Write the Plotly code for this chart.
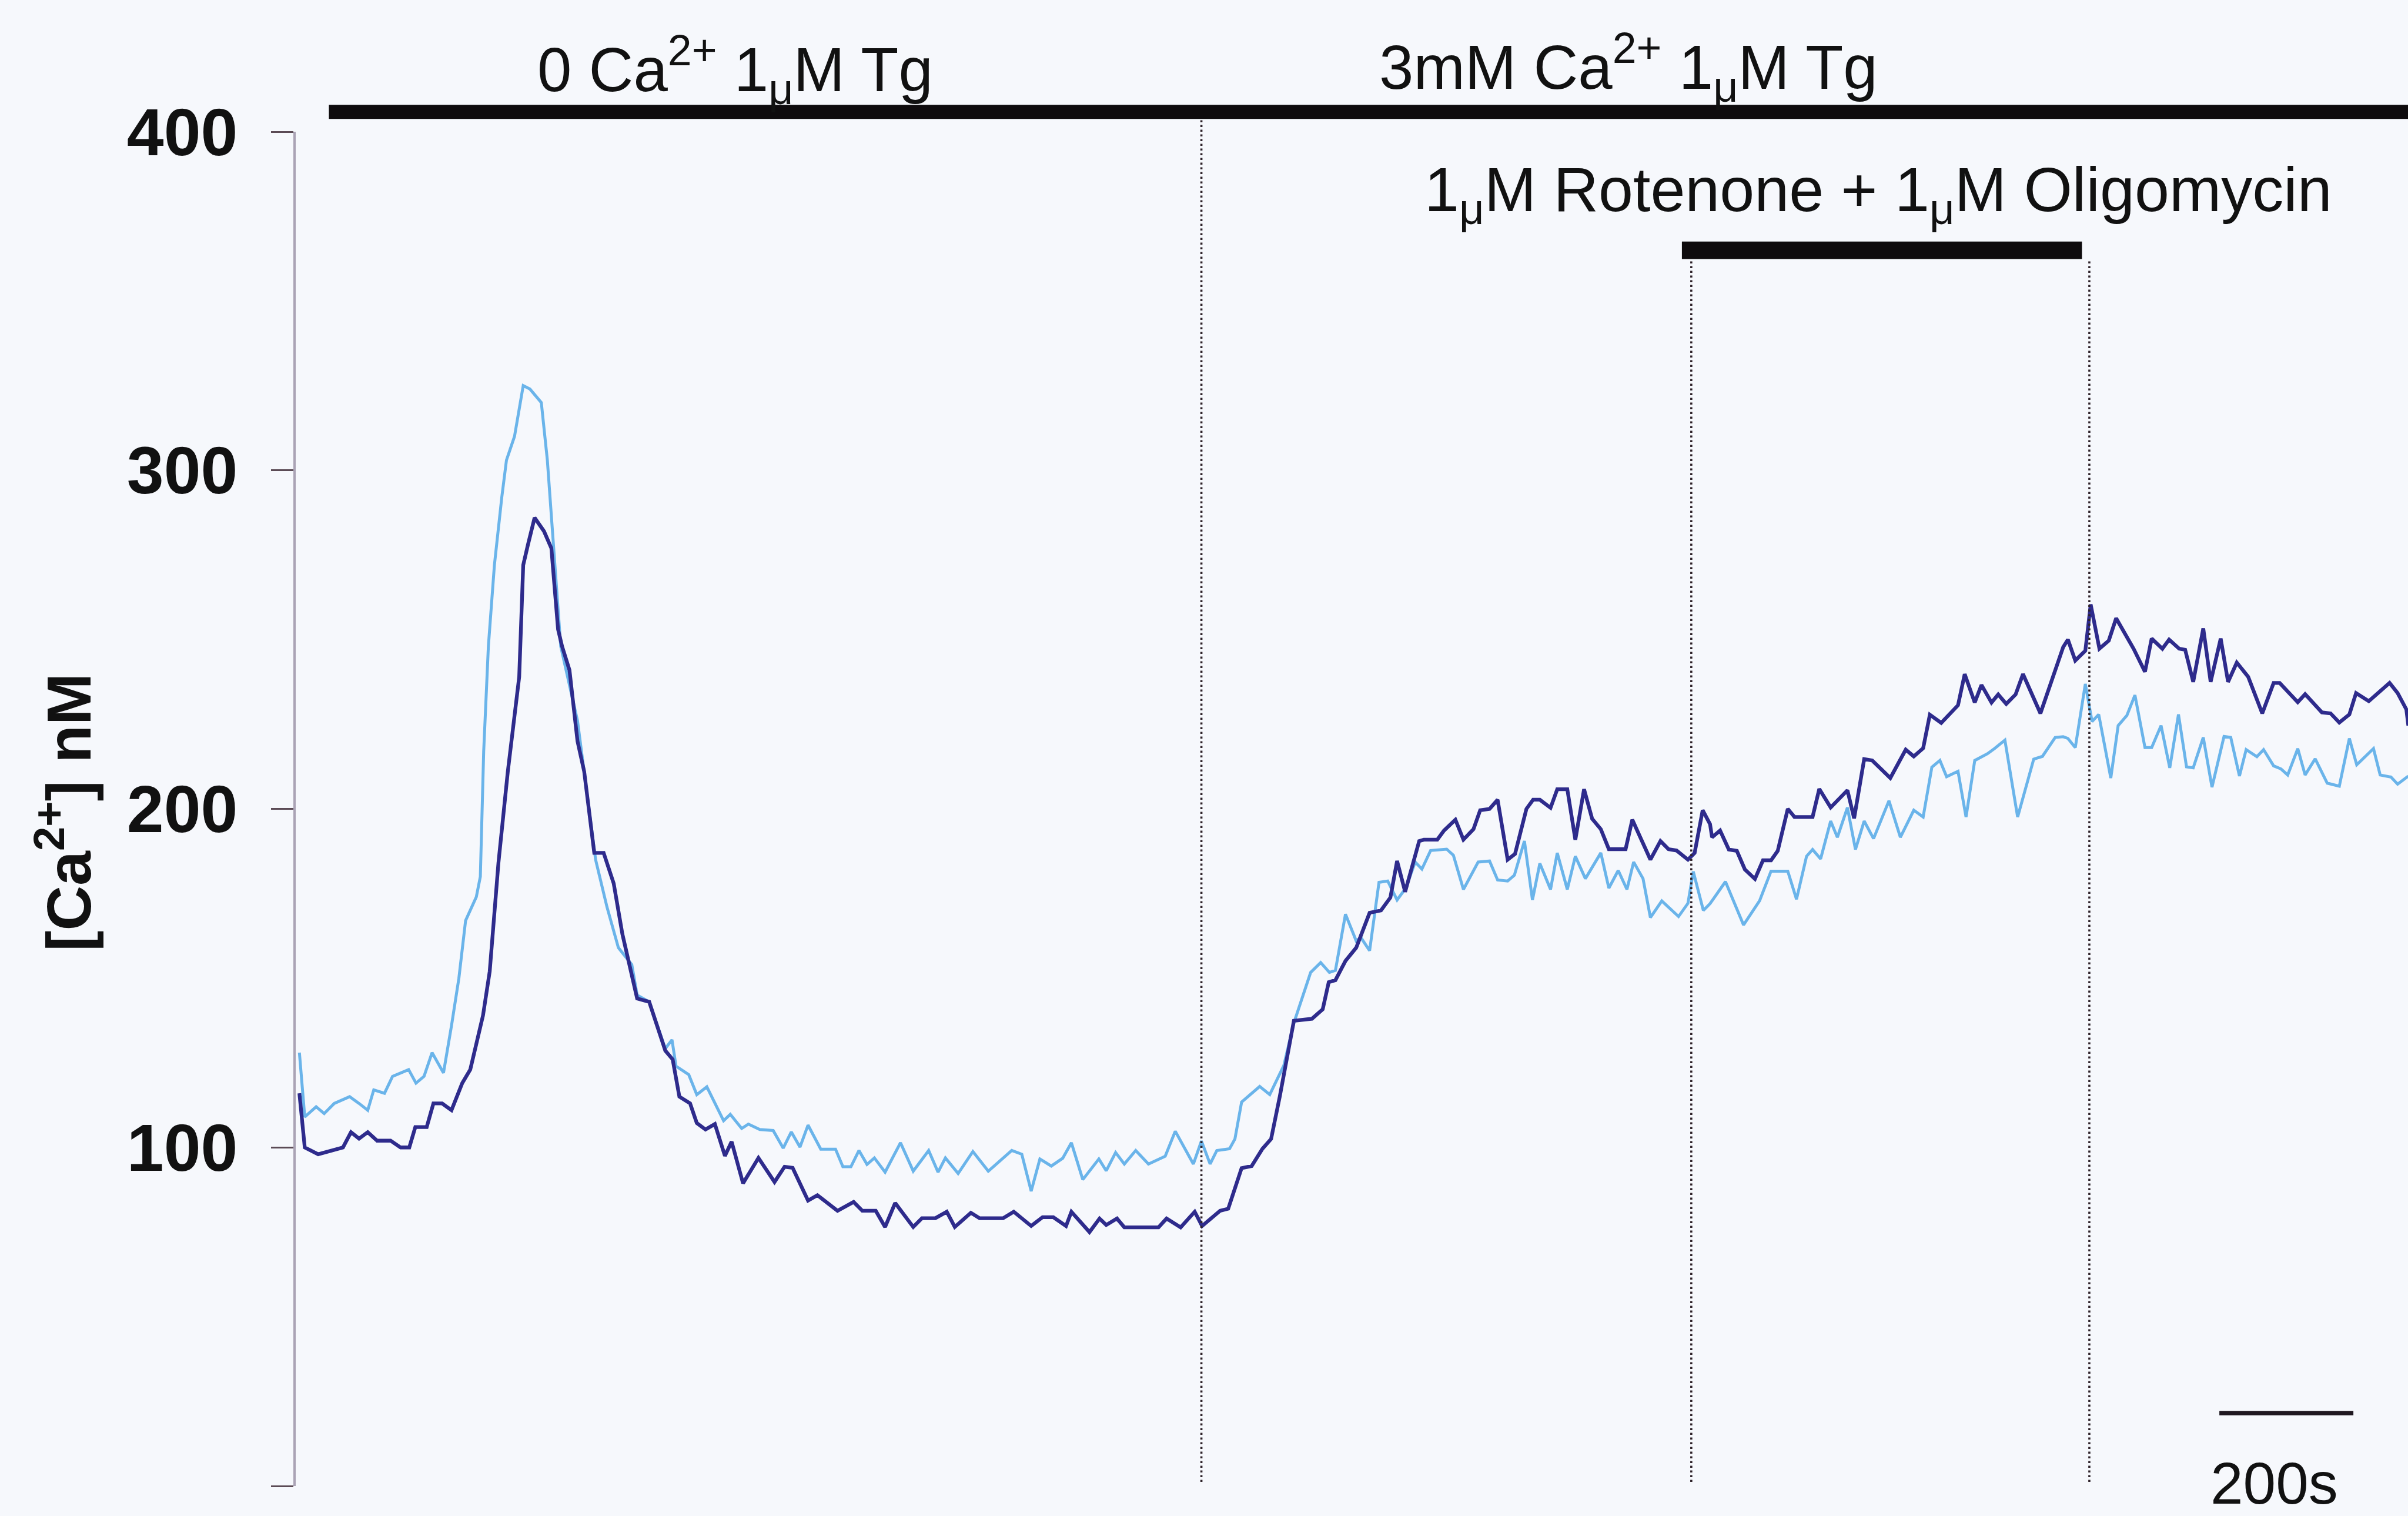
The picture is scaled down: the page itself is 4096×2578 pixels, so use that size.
import plotly.graph_objects as go

# ---------------- data (time in s, [Ca2+] in nM) ----------------
t_dark = [0, 8, 28, 45, 65, 77, 89, 102, 116, 136, 151, 164, 173, 190, 200, 213, 227, 243, 255, 274,
          284, 297, 311, 328, 334, 341, 351, 365, 376, 386, 392, 403, 415, 425, 440, 454, 469, 482, 492, 504,
          522, 546, 557, 567, 583, 593, 606, 620, 635, 645, 662, 685, 709, 724, 736, 759, 773, 803, 827, 840,
          860, 874, 889, 916, 929, 949, 966, 978, 1002, 1015, 1050, 1066, 1092, 1109, 1125, 1144, 1152, 1179, 1194, 1204,
          1220, 1231, 1282, 1294, 1315, 1336, 1347, 1374, 1386, 1406, 1421, 1437, 1450, 1463, 1484, 1511, 1527, 1536, 1546, 1561,
          1577, 1597, 1614, 1628, 1638, 1650, 1671, 1678, 1698, 1708, 1725, 1737, 1752, 1762, 1776, 1788, 1803, 1814, 1831, 1841,
          1851, 1867, 1877, 1892, 1904, 1917, 1929, 1942, 1954, 1979, 1989, 2016, 2031, 2043, 2055, 2072, 2082, 2094, 2105, 2108,
          2120, 2133, 2145, 2157, 2172, 2184, 2196, 2206, 2221, 2231, 2258, 2268, 2285, 2310, 2320, 2335, 2347, 2374, 2397, 2409,
          2423, 2433, 2450, 2475, 2485, 2500, 2510, 2525, 2535, 2547, 2561, 2572, 2598, 2620, 2632, 2639, 2650, 2665, 2673, 2686,
          2700, 2711, 2737, 2754, 2764, 2780, 2790, 2805, 2814, 2826, 2841, 2852, 2867, 2878, 2891, 2908, 2929, 2946, 2955, 2982,
          2993, 3018, 3031, 3044, 3059, 3069, 3088, 3119, 3131, 3144, 3147]
ca_dark = [116, 100, 98, 99, 100, 104.5, 102.6, 104.5, 102, 102, 100, 100, 106, 106, 113, 113, 111, 119, 123, 139,
           152, 184, 211, 239, 272, 278, 286, 282, 277, 253, 248, 241, 220, 211, 187, 187, 178, 163, 154, 144,
           143, 128.6, 126, 115, 113, 107.2, 105.3, 106.9, 97.5, 101.7, 89.4, 96.9, 89.8, 94.3, 94, 84.3, 85.9, 81.3, 83.9, 81.3,
           81.3, 76.5, 83.6, 76.5, 79.1, 79.1, 81, 76.5, 80.7, 79.1, 79.1, 81, 76.8, 79.4, 79.4, 76.8, 81, 75, 79, 77.1,
           79, 76.4, 76.4, 79, 76.4, 81, 76.8, 81.3, 81.9, 93.9, 94.5, 99.6, 102.5, 115.1, 137.4, 138, 140.8, 148.8, 149.4, 155.1,
           159, 169.3, 170, 173.8, 184.6, 175.5, 190.5, 190.9, 190.9, 193.6, 196.8, 190.9, 194, 199.6, 200, 202.7, 185, 186.7, 200, 202.7,
           202.7, 200.3, 205.8, 205.8, 190.9, 205.8, 197.1, 194, 188.1, 188.1, 196.8, 185, 190.5, 188.1, 187.7, 185, 187, 199.6, 195.5, 191.6,
           193.6, 188, 187.6, 182.1, 179.3, 184.8, 184.8, 187.6, 200, 197.6, 197.6, 205.9, 200.4, 205.5, 197.2, 214.7, 214.3, 209.1, 217.5, 215.5,
           217.9, 227.8, 225.4, 230.6, 239.8, 231.4, 236.6, 231.4, 233.8, 231, 233.8, 239.8, 228.2, 241, 247.8, 250, 243.8, 246.7, 260.4, 247.3,
           249.7, 256.3, 247.3, 240.5, 250.3, 247.3, 250, 247.3, 247, 237.5, 253.3, 237.5, 250.3, 237.5, 243.2, 239, 228.2, 237.2, 237.2, 231.5,
           233.9, 228.5, 228.2, 225.5, 227.9, 234.2, 231.8, 237.2, 234.2, 229.4, 224.6]

t_light = [0, 8, 25, 37, 52, 75, 89, 102, 111, 127, 139, 163, 174, 186, 198, 215, 227, 238, 248, 264,
           270, 275, 282, 291, 302, 309, 321, 334, 344, 361, 370, 378, 385, 390, 415, 425, 442, 459, 476, 496,
           504, 522, 546, 556, 562, 581, 593, 608, 633, 643, 660, 670, 687, 707, 722, 734, 747, 759, 778, 800,
           811, 823, 835, 847, 858, 874, 897, 916, 939, 953, 964, 983, 1005, 1028, 1050, 1063, 1078, 1092, 1105, 1122,
           1139, 1152, 1169, 1193, 1204, 1218, 1231, 1248, 1267, 1292, 1307, 1334, 1346, 1359, 1369, 1388, 1396, 1406, 1433, 1448,
           1469, 1484, 1509, 1524, 1537, 1546, 1561, 1577, 1584, 1597, 1611, 1624, 1638, 1651, 1665, 1675, 1688, 1712, 1722, 1737,
           1759, 1776, 1788, 1803, 1813, 1828, 1840, 1851, 1867, 1877, 1892, 1904, 1919, 1942, 1954, 1968, 1981, 1991, 2005, 2016,
           2033, 2058, 2072, 2080, 2095, 2105, 2128, 2155, 2179, 2196, 2221, 2234, 2249, 2258, 2270, 2285, 2295, 2310, 2322, 2335,
           2349, 2372, 2389, 2409, 2423, 2436, 2448, 2458, 2475, 2487, 2500, 2519, 2530, 2545, 2564, 2588, 2601, 2620, 2632, 2639,
           2650, 2665, 2675, 2685, 2703, 2714, 2727, 2739, 2754, 2764, 2778, 2791, 2804, 2816, 2826, 2841, 2854, 2872, 2882, 2895,
           2905, 2921, 2931, 2946, 2957, 2967, 2982, 2993, 3008, 3026, 3044, 3059, 3070, 3095, 3105, 3121, 3131, 3147]
ca_light = [128, 109, 112, 110, 113, 115, 113, 111, 117, 116, 121, 123, 119, 121, 128, 122, 136, 150, 167, 174,
            180, 217, 248, 272, 292, 303, 310, 325, 324, 320, 303, 281, 259, 248, 226, 211, 185, 171, 159, 154,
            145, 143, 129.2, 131.8, 124, 121.5, 115.6, 117.9, 107.9, 109.8, 105.6, 106.9, 105.3, 105, 99.8, 104.6, 100.1, 106.6, 99.5, 99.5,
            94.3, 94.3, 99.1, 95, 96.9, 92.7, 101.4, 93, 99.1, 92.7, 96.9, 92.3, 98.8, 93, 96.8, 99.1, 98, 87.1, 96.6, 94.5,
            96.8, 101.4, 90.5, 96.6, 93.1, 98.5, 95.1, 99.1, 95.1, 97.4, 104.8, 95.1, 101.9, 95.1, 99.1, 99.6, 102.5, 113.4, 118, 115.6,
            124.2, 136.8, 151.7, 154.6, 151.7, 152.3, 168.9, 161, 162, 158.1, 178.3, 178.7, 173.1, 176.6, 184.3, 182.2, 187.7, 188.1, 186.3, 176.2,
            184.3, 184.6, 179, 178.7, 180.4, 190.5, 173.1, 183.9, 176.2, 187, 176.2, 186, 179.4, 187, 176.6, 181.8, 176.2, 184.3, 179.4, 167.9,
            172.8, 168.2, 172.1, 181.5, 170, 172, 178.5, 165.7, 172.9, 181.6, 181.6, 173.3, 186, 188, 185.2, 196.4, 191.6, 200.4, 188, 196.4,
            191.2, 202.4, 191.6, 199.6, 197.6, 212.3, 214.3, 209.5, 211.1, 197.6, 214.3, 216.3, 217.9, 220.3, 197.6, 214.7, 215.5, 221.1, 221.3, 220.8,
            218.1, 236.9, 225.8, 227.9, 209.1, 224.6, 227.6, 233.6, 218.1, 218.1, 224.6, 212.1, 227.9, 212.4, 212.1, 221.1, 206.4, 221.4, 221.1, 209.7,
            217.5, 215.4, 217.5, 212.7, 211.8, 210, 217.8, 210, 214.8, 207.6, 206.7, 220.8, 213, 217.8, 210, 209.4, 207.3, 209.7]

y_ticks = [0, 100, 200, 300, 400]
tg_start = 44                 # start of 0 Ca2+ / Tg bar
ca_add_time = 1346            # 3 mM Ca2+ re-addition
rot_bar = [2063, 2660]        # rotenone + oligomycin bar
rot_lines = [2077, 2671]      # dotted markers for rotenone + oligomycin
scale_start = 2865
scale_len = 200               # 200 s scale bar
x_range = [-5.5, 3146.5]

# ---------------- style ----------------
BG = "#f6f8fc"
DARK = "#2e2b8c"
LIGHT = "#6ab4ea"
INK = "#0e0b0d"
FONT = "Liberation Sans"

fig = go.Figure()
fig.add_trace(go.Scatter(x=t_light, y=ca_light, mode="lines",
                         line=dict(color=LIGHT, width=5), showlegend=False, hoverinfo="skip"))
fig.add_trace(go.Scatter(x=t_dark, y=ca_dark, mode="lines",
                         line=dict(color=DARK, width=6.3), showlegend=False, hoverinfo="skip"))

shapes = []
# top bar: 0 Ca2+ then 3 mM Ca2+ with Tg
shapes.append(dict(type="rect", xref="x", yref="paper", x0=tg_start, x1=x_range[1],
                   y0=1.0094, y1=1.0199, fillcolor=INK, line=dict(width=0), layer="above"))
# rotenone bar
shapes.append(dict(type="rect", xref="x", yref="paper", x0=rot_bar[0], x1=rot_bar[1],
                   y0=0.906, y1=0.9189, fillcolor=INK, line=dict(width=0), layer="above"))
# dotted event lines
dot = dict(color="#2e2229", width=3.6, dash="3.6px,4.4px")
shapes.append(dict(type="line", xref="x", yref="paper", x0=ca_add_time, x1=ca_add_time,
                   y0=0.003, y1=1.0094, line=dot))
for tl in rot_lines:
    shapes.append(dict(type="line", xref="x", yref="paper", x0=tl, x1=tl,
                       y0=0.003, y1=0.906, line=dot))
# scale bar
shapes.append(dict(type="line", xref="x", yref="paper", x0=scale_start, x1=scale_start + scale_len,
                   y0=0.0538, y1=0.0538, line=dict(color="#1f1820", width=7.5)))

annotations = [
    dict(text="[Ca<sup>2+</sup>] nM", xref="paper", yref="paper", x=-0.1095, y=0.4975,
         textangle=-90, showarrow=False, xanchor="center", yanchor="middle",
         font=dict(family=FONT, size=106, color="#111", weight="bold")),
    dict(text="0 Ca<sup>2+</sup> 1<sub>\u03bc</sub>M Tg", xref="x", yref="paper", x=650, y=1.0125,
         showarrow=False, xanchor="center", yanchor="bottom",
         font=dict(family=FONT, size=105, color="#111")),
    dict(text="3mM Ca<sup>2+</sup> 1<sub>\u03bc</sub>M Tg", xref="x", yref="paper", x=1983, y=1.0144,
         showarrow=False, xanchor="center", yanchor="bottom",
         font=dict(family=FONT, size=105, color="#111")),
    dict(text="1<sub>\u03bc</sub>M Rotenone + 1<sub>\u03bc</sub>M Oligomycin", xref="x", yref="paper",
         x=2356, y=0.924, showarrow=False, xanchor="center", yanchor="bottom",
         font=dict(family=FONT, size=106, color="#111")),
    dict(text="200s", xref="x", yref="paper", x=2947, y=0.0275, showarrow=False,
         xanchor="center", yanchor="top", font=dict(family=FONT, size=100, color="#111")),
]

fig.update_layout(
    width=4096, height=2578,
    margin=dict(l=503, r=0, t=224, b=51, pad=0),
    paper_bgcolor=BG, plot_bgcolor=BG,
    shapes=shapes, annotations=annotations,
    xaxis=dict(range=x_range, visible=False, showgrid=False, zeroline=False),
    yaxis=dict(range=[0, 400], tickvals=y_ticks, ticktext=[str(v) for v in y_ticks],
               ticks="outside", ticklen=38, tickwidth=3, tickcolor="#5b4b55",
               showline=True, linecolor="#aaa3b5", linewidth=4,
               showgrid=False, zeroline=False, ticklabelstandoff=34,
               tickfont=dict(family=FONT, size=113, color="#111", weight="bold")),
)

fig.write_html("out.html")
